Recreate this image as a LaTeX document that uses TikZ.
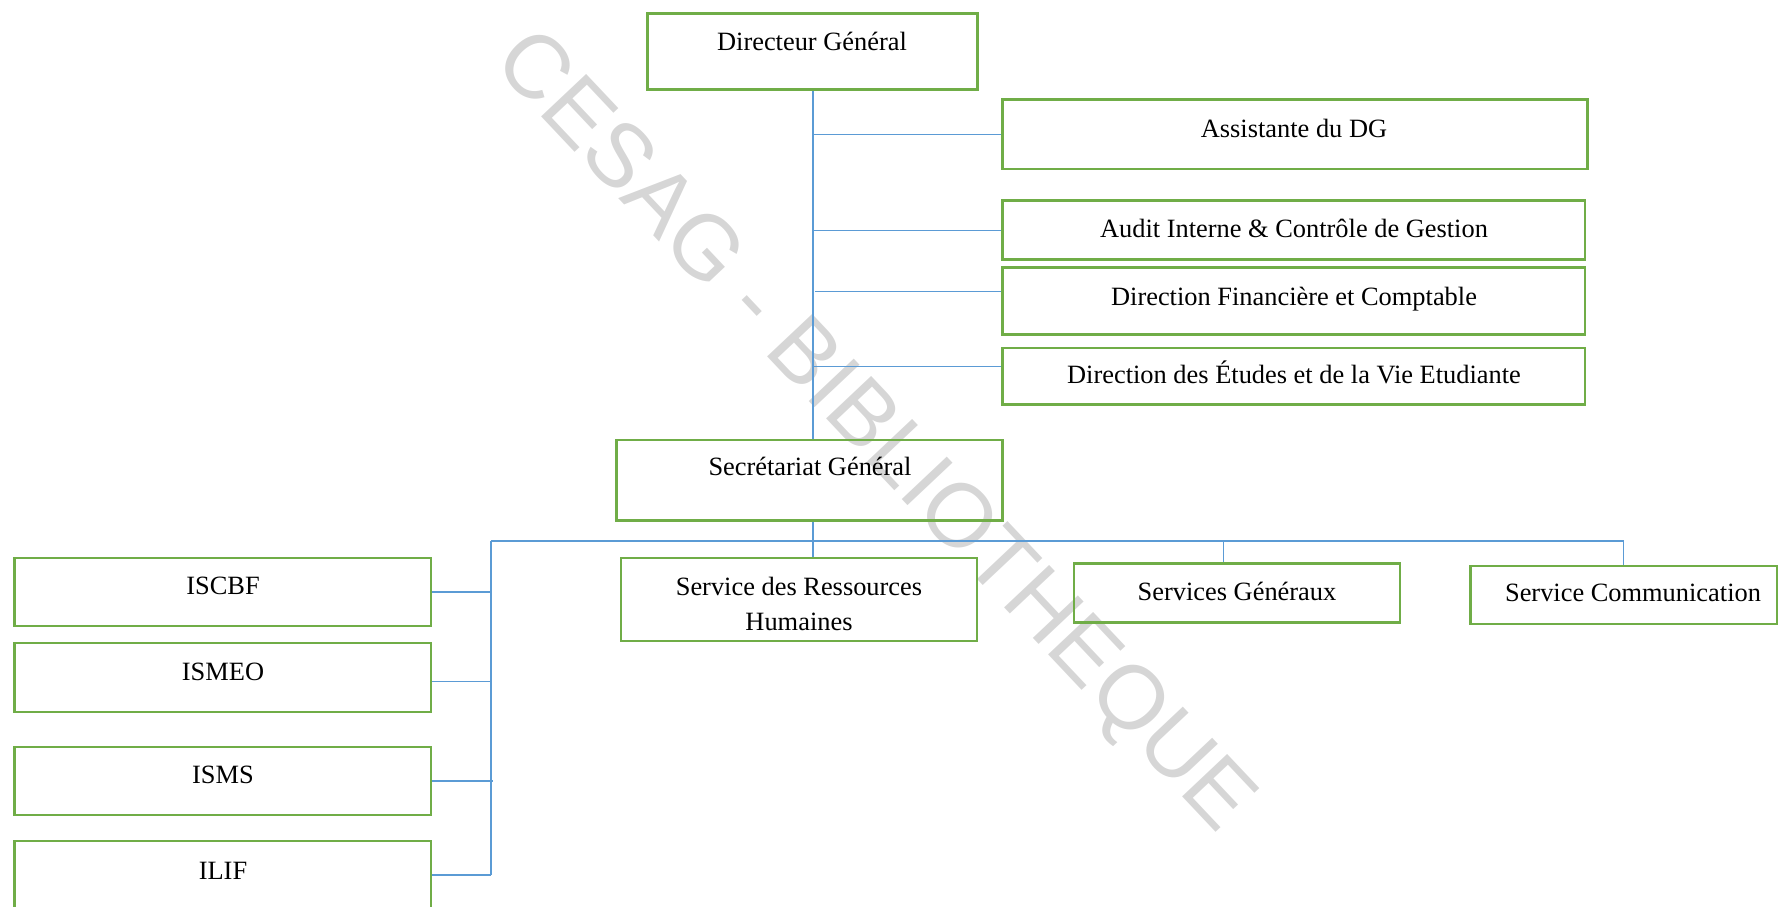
\documentclass[tikz,border=0pt]{standalone}
\usepackage{fontspec}
\setmainfont{Liberation Serif}
\newfontfamily\wmfont{Liberation Sans}
\usetikzlibrary{fit,calc}
\definecolor{boxgreen}{HTML}{70AD47}
\definecolor{linkblue}{HTML}{5B9BD5}
\definecolor{wmgray}{HTML}{D6D6D6}

% one organisational unit: name, left, top, right, bottom (pixel grid, y down)
\newcommand\orgunit[5]{\node[unitbox, fit={(#2,#3) (#4,#5)}] (#1) {};}

\begin{document}
\begin{tikzpicture}[x=0.5pt, y=-0.5pt,
  unitbox/.style={draw=boxgreen, line width=1.35pt, rectangle, inner sep=0pt},
  unittext/.style={anchor=base, inner sep=0pt, align=center,
    font=\fontsize{13.2pt}{17.5pt}\selectfont},
  link/.style={draw=linkblue, line width=0.55pt},
  watermark/.style={text=wmgray, font=\wmfont\fontsize{45pt}{45pt}\selectfont,
    inner sep=0pt, rotate=-46.7}]

\useasboundingbox (0,0) rectangle (1778,906);

% library stamp across the chart
\node[watermark] (stamp) at (872,434) {CESAG - BIBLIOTHEQUE};

% boxes
\orgunit{dg}{647.5}{13.6}{977.4}{89.6}
\orgunit{as}{1002.4}{99.8}{1587.5}{169}
\orgunit{ai}{1002.4}{200.7}{1585}{259.7}
\orgunit{df}{1002.4}{267.6}{1585}{334.5}
\orgunit{de}{1002.4}{348}{1585}{404.8}
\orgunit{sg}{616.8}{440}{1002.4}{520.5}
\orgunit{srh}{621}{558}{977}{641}
\orgunit{sgx}{1074}{563.5}{1400}{622.5}
\orgunit{sc}{1470.7}{566}{1777}{624}
\orgunit{iscbf}{14.7}{558}{431}{626}
\orgunit{ismeo}{14.7}{643}{431}{712}
\orgunit{isms}{14.7}{747}{431}{815}
\orgunit{ilif}{14.7}{841}{431}{914}

% labels
\node[unittext] (dgt) at (812,50) {Directeur Général};
\node[unittext] (ast) at (1294,137) {Assistante du DG};
\node[unittext] (ait) at (1294,237) {Audit Interne \& Contrôle de Gestion};
\node[unittext] (dft) at (1294,305) {Direction Financière et Comptable};
\node[unittext] (det) at (1294,383) {Direction des Études et de la Vie Etudiante};
\node[unittext] (sgt) at (810,475) {Secrétariat Général};
\node[unittext] (srht) at (799,595) {Service des Ressources};
\node[unittext] (srht2) at (799,630) {Humaines};
\node[unittext] (sgxt) at (1237,600) {Services Généraux};
\node[unittext] (sct) at (1633,601) {Service Communication};
\node[unittext] (iscbft) at (223,594) {ISCBF};
\node[unittext] (ismeot) at (223,680) {ISMEO};
\node[unittext] (ismst) at (223,783) {ISMS};
\node[unittext] (ilift) at (223,879) {ILIF};

% direction branch
\coordinate (trunk) at ($(dg.south)+(0.5,0)$);
\draw[link] (trunk) -- (trunk |- sg.north);
\draw[link] (trunk |- as.west) -- (as.west);
\draw[link] (trunk |- ai.west) -- (ai.west);
\draw[link] ($(trunk |- df.west)+(2,-10)$) -- ($(df.west)+(0,-10)$);
\draw[link] ($(trunk |- de.west)+(0,-10)$) -- ($(de.west)+(0,-10)$);

% secretariat bus
\coordinate (busL) at (491,541);
\draw[link] (trunk |- sg.south) -- (trunk |- srh.north);
\draw[link] (busL) -- (busL -| sc.north) -- (sc.north);
\path ($(sgx.north)+(-13.5,0)$) coordinate (sgxtop);
\draw[link] (sgxtop) -- (sgxtop |- busL);
\draw[link] (busL) -- ($(busL |- ilif.east)+(0,-2.5)$);
\draw[link] (iscbf.east) -- (iscbf.east -| busL);
\draw[link] ($(ismeo.east)+(0,4)$) -- ($(ismeo.east -| busL)+(0,4)$);
\draw[link] (isms.east) -- ($(isms.east -| busL)+(2,0)$);
\draw[link] ($(ilif.east)+(0,-2.5)$) -- ($(ilif.east -| busL)+(0,-2.5)$);
\end{tikzpicture}
\end{document}
